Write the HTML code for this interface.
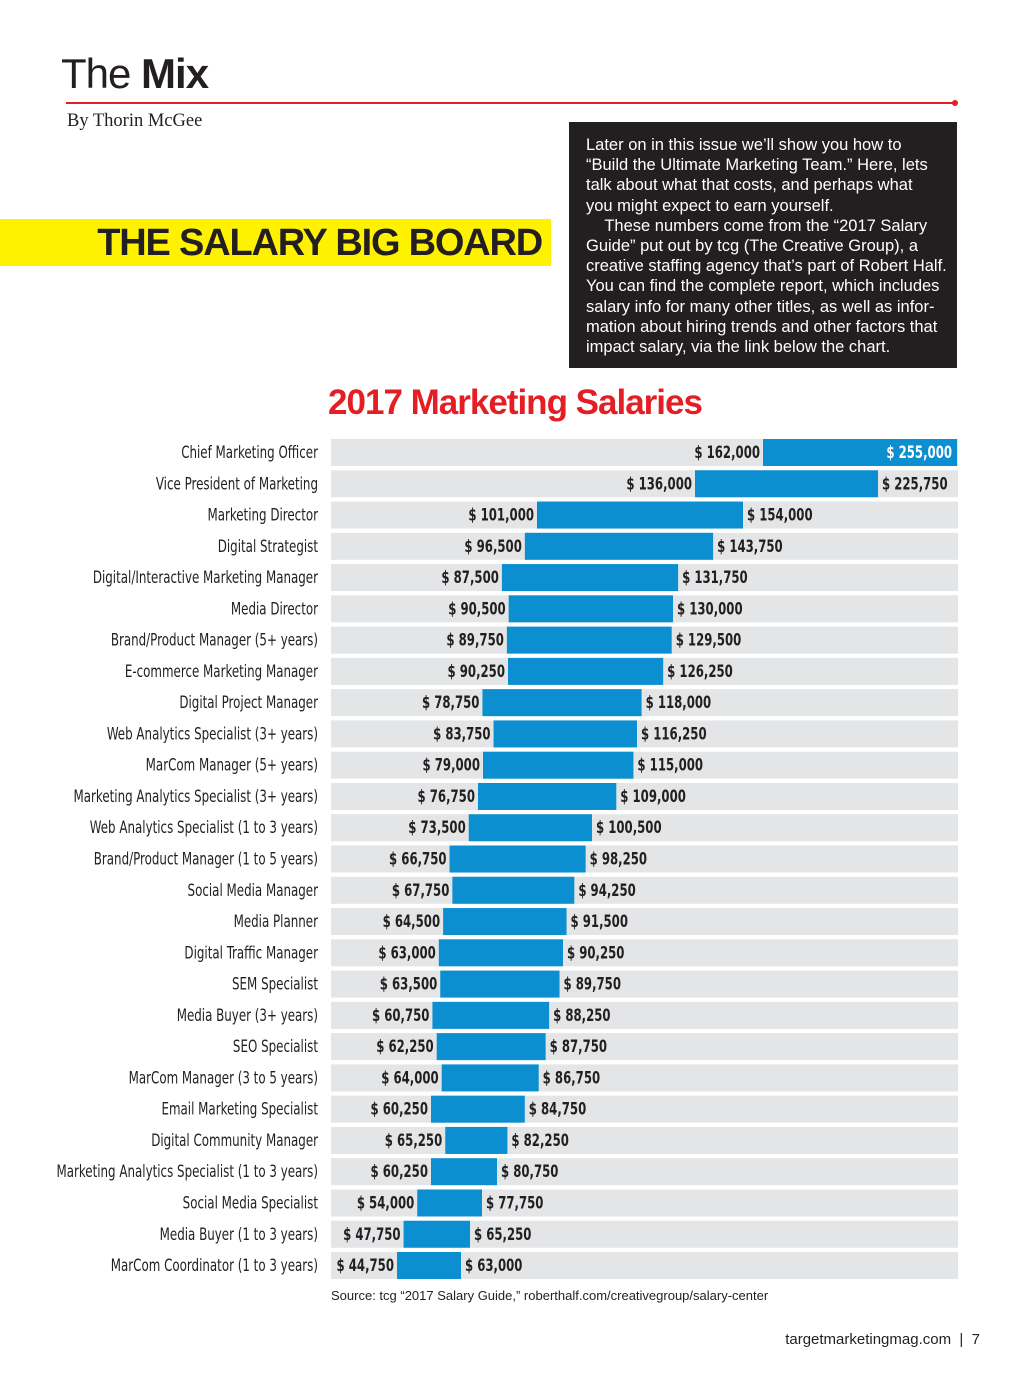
<!DOCTYPE html>
<html><head><meta charset="utf-8">
<style>
body{margin:0;background:#fff;}
#page{position:relative;width:1024px;height:1387px;overflow:hidden;background:#fff;font-family:"Liberation Sans",sans-serif;}
.abs{position:absolute;}
</style></head>
<body>
<div id="page">
  <div class="abs" style="left:61px;top:50px;font-size:42px;color:#231f20;letter-spacing:-1px;"><span style="font-weight:normal;">The</span> <b>Mix</b></div>
  <div class="abs" style="left:66px;top:102px;width:889px;height:1.5px;background:#e31e24;"></div>
  <div class="abs" style="left:952px;top:100px;width:6px;height:6px;border-radius:3px;background:#e31e24;"></div>
  <div class="abs" style="left:67px;top:111px;font-family:'Liberation Serif',serif;font-size:18.5px;color:#231f20;">By Thorin McGee</div>
  <div class="abs" style="left:0;top:219px;width:551px;height:47px;background:#fff200;"></div>
  <div class="abs" style="left:0;top:219px;width:542px;height:47px;line-height:49px;text-align:right;font-weight:bold;font-size:38px;color:#231f20;letter-spacing:-1.2px;">THE SALARY BIG BOARD</div>
  <div class="abs" style="left:569px;top:122px;width:388px;height:246px;background:#231f20;color:#fff;font-size:16.5px;line-height:20.2px;box-sizing:border-box;padding:13px 0 0 17px;white-space:nowrap;overflow:hidden;">Later on in this issue we’ll show you how to<br>“Build the Ultimate Marketing Team.” Here, lets<br>talk about what that costs, and perhaps what<br>you might expect to earn yourself.<br>&nbsp;&nbsp;&nbsp;&nbsp;These numbers come from the “2017 Salary<br>Guide” put out by tcg (The Creative Group), a<br>creative staffing agency that’s part of Robert Half.<br>You can find the complete report, which includes<br>salary info for many other titles, as well as infor-<br>mation about hiring trends and other factors that<br>impact salary, via the link below the chart.</div>
  <div class="abs" style="left:0;top:383px;width:1030px;text-align:center;font-weight:bold;font-size:35px;color:#e31e24;letter-spacing:-1px;">2017 Marketing Salaries</div>
  <svg class="abs" id="chart" style="left:0;top:0;" width="1024" height="1387"></svg>
  <div class="abs" style="left:331px;top:1288px;font-size:13px;color:#231f20;">Source: tcg “2017 Salary Guide,” roberthalf.com/creativegroup/salary-center</div>
  <div class="abs" style="right:44px;top:1331px;font-size:15px;color:#231f20;">targetmarketingmag.com &nbsp;|&nbsp; 7</div>
</div>
<script>
const categories=["Chief Marketing Officer","Vice President of Marketing","Marketing Director","Digital Strategist","Digital/Interactive Marketing Manager","Media Director","Brand/Product Manager (5+ years)","E-commerce Marketing Manager","Digital Project Manager","Web Analytics Specialist (3+ years)","MarCom Manager (5+ years)","Marketing Analytics Specialist (3+ years)","Web Analytics Specialist (1 to 3 years)","Brand/Product Manager (1 to 5 years)","Social Media Manager","Media Planner","Digital Traffic Manager","SEM Specialist","Media Buyer (3+ years)","SEO Specialist","MarCom Manager (3 to 5 years)","Email Marketing Specialist","Digital Community Manager","Marketing Analytics Specialist (1 to 3 years)","Social Media Specialist","Media Buyer (1 to 3 years)","MarCom Coordinator (1 to 3 years)"];
const lowValues=[162000,136000,101000,96500,87500,90500,89750,90250,78750,83750,79000,76750,73500,66750,67750,64500,63000,63500,60750,62250,64000,60250,65250,60250,54000,47750,44750];
const highValues=[255000,225750,154000,143750,131750,130000,129500,126250,118000,116250,115000,109000,100500,98250,94250,91500,90250,89750,88250,87750,86750,84750,82250,80750,77750,65250,63000];

function poly(dom,rng){return v=>{if(v<=dom[0])return rng[0]+(v-dom[0])*(rng[1]-rng[0])/(dom[1]-dom[0]);
  for(let i=1;i<dom.length;i++){if(v<=dom[i])return rng[i-1]+(v-dom[i-1])*(rng[i]-rng[i-1])/(dom[i]-dom[i-1]);}
  const n=dom.length-1;return rng[n]+(v-dom[n])*(rng[n]-rng[n-1])/(dom[n]-dom[n-1]);};}
const xLow=poly([44750,60250,76750,90250,101000,136000,162000],[397,431,478,508,537,695,763]);
const xHigh=poly([63000,65250,77750,80750,90250,100500,116250,130000,154000,225750,255000],[461,470,482,497,563,592,637,673,743,878,957]);
const y0=439,pitch=31.27,rowH=27,left=331,right=958;
const fmt=v=>"$ "+v.toLocaleString("en-US");
const NS="http://www.w3.org/2000/svg";
const svg=document.getElementById("chart");
function mk(tag,attrs,txt){const e=document.createElementNS(NS,tag);for(const k in attrs)e.setAttribute(k,attrs[k]);if(txt!==undefined)e.textContent=txt;svg.appendChild(e);return e;}
const cf='"DejaVu Sans Condensed","Liberation Sans",sans-serif';
function tx(x,y,anchor,sx){return {x:0,y:0,"text-anchor":anchor,transform:"translate("+x+","+y+") scale("+sx+",1)"};}
categories.forEach((c,i)=>{
  const y=y0+i*pitch;
  const bg=mk("rect",{x:left,y:y,width:right-left,height:rowH,fill:"#e4e5e6"});
  
  
  const x1=xLow(lowValues[i]),x2=xHigh(highValues[i]);
  const bar=mk("rect",{x:x1,y:y,width:Math.max(0,x2-x1),height:rowH,fill:"#0b8fd0"});
  
  
  const a1=tx(318,y+19,"end",0.8);a1["font-family"]=cf;a1["font-size"]="16.5";a1.fill="#231f20";
  const lab=mk("text",a1,c);
  
  
  const a2=tx(x1-3,y+19,"end",0.79);a2["font-family"]=cf;a2["font-size"]="16.5";a2["font-weight"]="bold";a2.fill="#231f20";
  const lt=mk("text",a2,fmt(lowValues[i]));
  
  
  const inside=x2>right-60;
  const a3=tx(inside?x2-5:x2+4,y+19,inside?"end":"start",0.79);a3["font-family"]=cf;a3["font-size"]="16.5";a3["font-weight"]="bold";a3.fill=inside?"#fff":"#231f20";
  const ht=mk("text",a3,fmt(highValues[i]));
  
  
});
</script>
</body></html>
